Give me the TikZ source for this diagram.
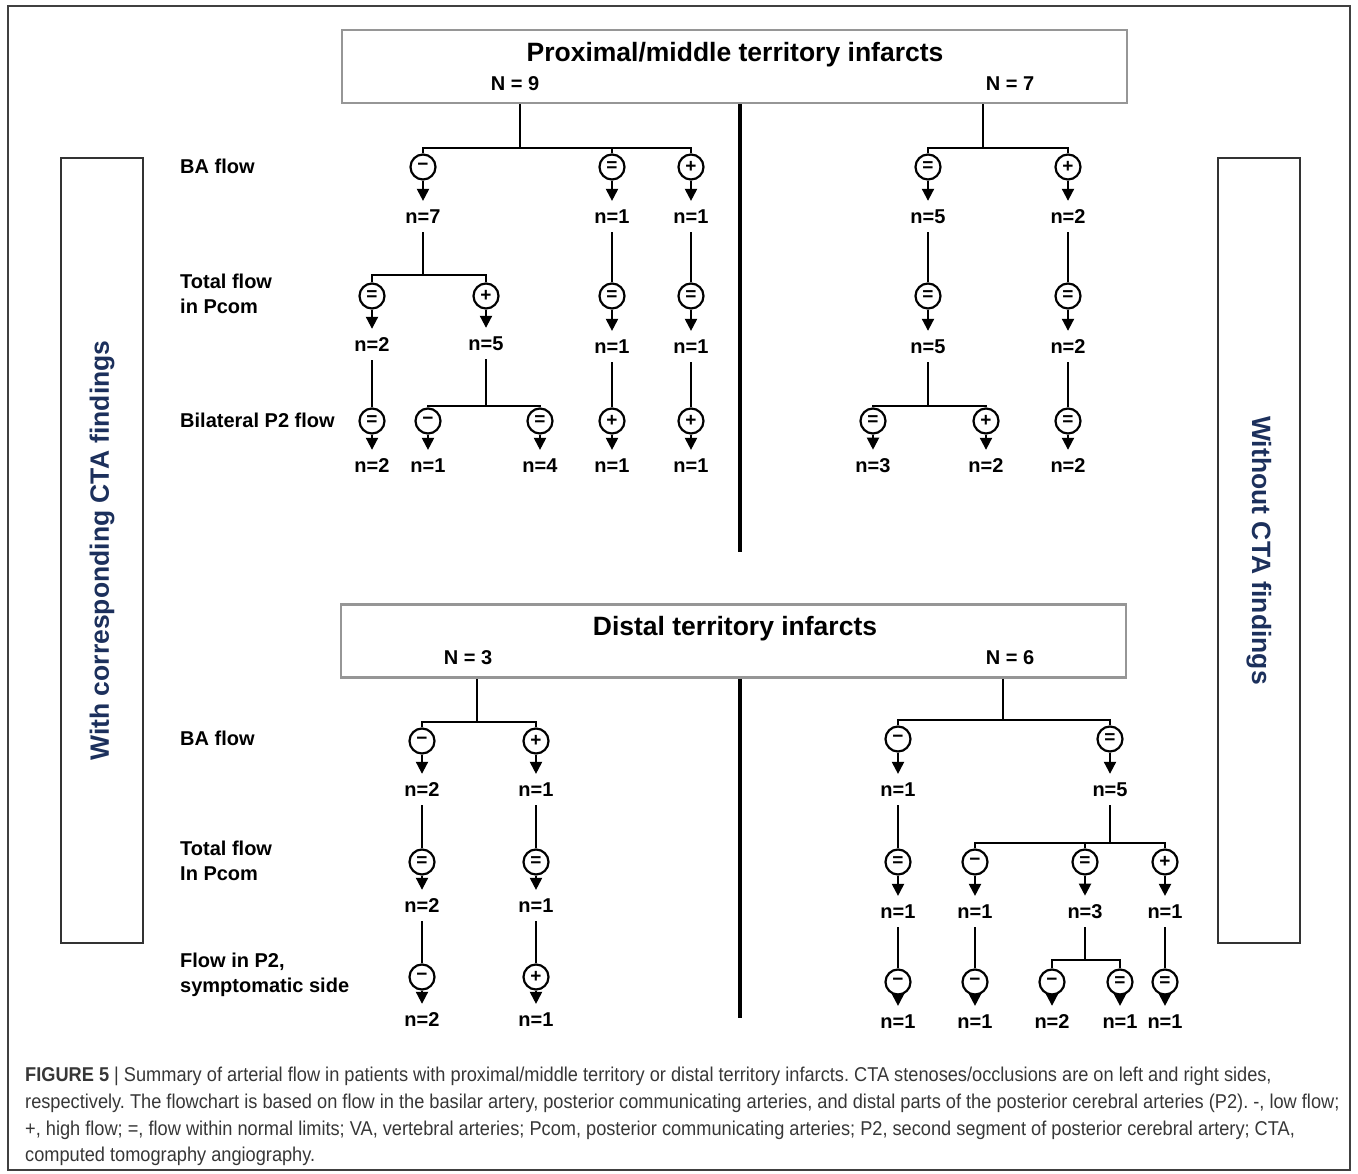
\documentclass[tikz,border=0pt]{standalone}
\usepackage{fontspec}
\setmainfont{Liberation Sans}
\newfontfamily\capfont[FakeStretch=0.91]{Liberation Sans}
\usetikzlibrary{arrows.meta}

\definecolor{boxgray}{RGB}{150,150,150}
\definecolor{sidenavy}{RGB}{28,48,92}
\definecolor{capgray}{RGB}{55,55,55}

\newcommand{\flowlo}{\char"2212}
\newcommand{\flowhi}{+}
\newcommand{\floweq}{=}

\tikzset{
  flowline/.style={line width=2.4pt},
  flowtip/.style={line width=2pt, -{Triangle[width=12pt,length=12pt]}, shorten >=1pt},
  flowsym/.style={circle, draw, line width=2.2pt, minimum size=25pt, inner sep=0pt, font=\bfseries\fontsize{19}{19}\selectfont},
  ncount/.style={font=\bfseries\fontsize{20}{20}\selectfont, inner xsep=2pt, inner ysep=8pt},
  rowlabel/.style={font=\bfseries\fontsize{20}{25}\selectfont, anchor=west, align=left, inner sep=0pt},
  groupbox/.style={draw=boxgray, line width=2.6pt, minimum width=785pt, minimum height=73pt, inner sep=0pt},
  grouptitle/.style={font=\bfseries\fontsize{26.5}{26.5}\selectfont},
  groupn/.style={font=\bfseries\fontsize{20}{20}\selectfont},
  sidebox/.style={draw=black!80, line width=1.3pt, minimum width=785pt, minimum height=82pt, inner sep=0pt, text=sidenavy, font=\bfseries\fontsize{26.5}{26.5}\selectfont},
  divider/.style={line width=4pt},
}

\begin{document}
\frenchspacing
\begin{tikzpicture}[x=1pt, y=-1pt] %% flow summary, fig 5

\useasboundingbox (0,0) rectangle (1358,1174);
\draw[draw=black!75, line width=1.2pt] (8,6) rectangle (1350,1170); %cornice

% side boxes
\node[sidebox, rotate=90] (withcta) at (102,550.5) {With corresponding CTA findings};
\node[sidebox, rotate=-90] (withoutcta) at (1259,550.5) {Without CTA findings};

% row labels
\node[rowlabel] (rowba1) at (180,166) {BA flow};
\node[rowlabel] (rowpcom1) at (180,294) {Total flow\\in Pcom};
\node[rowlabel] (rowp2a) at (180,420) {Bilateral P2 flow};
\node[rowlabel] (rowba2) at (180,738) {BA flow};
\node[rowlabel] (rowpcom2) at (180,861) {Total flow\\In Pcom};
\node[rowlabel] (rowp2b) at (180,975) {Flow in P2,\\symptomatic side};

%%%%%%%%%%%%%%%% proximal/middle
\node[groupbox] (prox) at (734.5,66.5) {};
\node[grouptitle] (proxtitle) at (735,55) {Proximal/middle territory infarcts};
\node[groupn] (proxleft) at (515,84) {N = 9};
\node[groupn] (proxright) at (1010,84) {N = 7};

\coordinate (dv1) at (740,552);
\draw[divider] (prox.south -| dv1) -- (dv1);

% N = 9
\node[flowsym] (a1) at (423,167) {\flowlo};
\node[flowsym] (a2) at (612,167) {\floweq};
\node[flowsym] (a3) at (691,167) {\flowhi};
\node[ncount] (na1) at (423,217) {n=7};
\node[ncount] (na2) at (612,217) {n=1};
\node[ncount] (na3) at (691,217) {n=1};
\coordinate (ja) at (520,148);
\draw[flowline] (prox.south -| ja) -- (ja) -| (a1);
\draw[flowline] (ja) -| (a2);
\draw[flowline] (ja) -| (a3);
\draw[flowtip] (a1) -- (na1); \draw[flowtip] (a2) -- (na2); \draw[flowtip] (a3) -- (na3); %frecce

\node[flowsym] (b1) at (372,296) {\floweq};
\node[flowsym] (b2) at (486,296) {\flowhi};
\node[flowsym] (b3) at (612,296) {\floweq};
\node[flowsym] (b4) at (691,296) {\floweq};
\node[ncount] (nb1) at (372,345) {n=2};
\node[ncount] (nb2) at (486,344) {n=5};
\node[ncount] (nb3) at (612,347) {n=1};
\node[ncount] (nb4) at (691,347) {n=1};
\coordinate (jb) at (423,275);
\draw[flowline] (na1) -- (jb) -| (b1);
\draw[flowline] (jb) -| (b2);
\draw[flowline] (na2) -- (b3);
\draw[flowline] (na3) -- (b4);
\draw[flowtip] (b1) -- (nb1); \draw[flowtip] (b2) -- (nb2); \draw[flowtip] (b3) -- (nb3); \draw[flowtip] (b4) -- (nb4); %frecce

\node[flowsym] (c1) at (372,421) {\floweq};
\node[flowsym] (c2) at (428,421) {\flowlo};
\node[flowsym] (c3) at (540,421) {\floweq};
\node[flowsym] (c4) at (612,421) {\flowhi};
\node[flowsym] (c5) at (691,421) {\flowhi};
\node[ncount] (nc1) at (372,466) {n=2};
\node[ncount] (nc2) at (428,466) {n=1};
\node[ncount] (nc3) at (540,466) {n=4};
\node[ncount] (nc4) at (612,466) {n=1};
\node[ncount] (nc5) at (691,466) {n=1};
\coordinate (jc) at (486,406);
\draw[flowline] (nb1) -- (c1);
\draw[flowline] (nb2) -- (jc) -| (c2);
\draw[flowline] (jc) -| (c3);
\draw[flowline] (nb3) -- (c4);
\draw[flowline] (nb4) -- (c5);
\draw[flowtip] (c1) -- (nc1); \draw[flowtip] (c2) -- (nc2); \draw[flowtip] (c3) -- (nc3); \draw[flowtip] (c4) -- (nc4); \draw[flowtip] (c5) -- (nc5); %frecce

% N = 7
\node[flowsym] (d1) at (928,167) {\floweq};
\node[flowsym] (d2) at (1068,167) {\flowhi};
\node[ncount] (nd1) at (928,217) {n=5};
\node[ncount] (nd2) at (1068,217) {n=2};
\coordinate (jd) at (983,148);
\draw[flowline] (prox.south -| jd) -- (jd) -| (d1);
\draw[flowline] (jd) -| (d2);
\draw[flowtip] (d1) -- (nd1); \draw[flowtip] (d2) -- (nd2); %frecce

\node[flowsym] (e1) at (928,296) {\floweq};
\node[flowsym] (e2) at (1068,296) {\floweq};
\node[ncount] (ne1) at (928,347) {n=5};
\node[ncount] (ne2) at (1068,347) {n=2};
\draw[flowline] (nd1) -- (e1);
\draw[flowline] (nd2) -- (e2);
\draw[flowtip] (e1) -- (ne1); \draw[flowtip] (e2) -- (ne2); %frecce

\node[flowsym] (f1) at (873,421) {\floweq};
\node[flowsym] (f2) at (986,421) {\flowhi};
\node[flowsym] (f3) at (1068,421) {\floweq};
\node[ncount] (nf1) at (873,466) {n=3};
\node[ncount] (nf2) at (986,466) {n=2};
\node[ncount] (nf3) at (1068,466) {n=2};
\coordinate (jf) at (928,406);
\draw[flowline] (ne1) -- (jf) -| (f1);
\draw[flowline] (jf) -| (f2);
\draw[flowline] (ne2) -- (f3);
\draw[flowtip] (f1) -- (nf1); \draw[flowtip] (f2) -- (nf2); \draw[flowtip] (f3) -- (nf3); %frecce

%%%%%%%%%%%%%%%% distal
\node[groupbox] (dist) at (733.5,641) {};
\node[grouptitle] (disttitle) at (735,629) {Distal territory infarcts};
\node[groupn] (distleft) at (468,658) {N = 3};
\node[groupn] (distright) at (1010,658) {N = 6};

\coordinate (dv2) at (740,1018);
\draw[divider] (dist.south -| dv2) -- (dv2);

% N = 3
\node[flowsym] (g1) at (422,741) {\flowlo};
\node[flowsym] (g2) at (536,741) {\flowhi};
\node[ncount] (ng1) at (422,790) {n=2};
\node[ncount] (ng2) at (536,790) {n=1};
\coordinate (jg) at (477,722);
\draw[flowline] (dist.south -| jg) -- (jg) -| (g1);
\draw[flowline] (jg) -| (g2);
\draw[flowtip] (g1) -- (ng1); \draw[flowtip] (g2) -- (ng2); %frecce

\node[flowsym] (h1) at (422,862) {\floweq};
\node[flowsym] (h2) at (536,862) {\floweq};
\node[ncount] (nh1) at (422,906) {n=2};
\node[ncount] (nh2) at (536,906) {n=1};
\draw[flowline] (ng1) -- (h1);
\draw[flowline] (ng2) -- (h2);
\draw[flowtip] (h1) -- (nh1); \draw[flowtip] (h2) -- (nh2); %frecce

\node[flowsym] (i1) at (422,977) {\flowlo};
\node[flowsym] (i2) at (536,977) {\flowhi};
\node[ncount] (ni1) at (422,1020) {n=2};
\node[ncount] (ni2) at (536,1020) {n=1};
\draw[flowline] (nh1) -- (i1);
\draw[flowline] (nh2) -- (i2);
\draw[flowtip] (i1) -- (ni1); \draw[flowtip] (i2) -- (ni2); %frecce

% N = 6
\node[flowsym] (k1) at (898,739) {\flowlo};
\node[flowsym] (k2) at (1110,739) {\floweq};
\node[ncount] (nk1) at (898,790) {n=1};
\node[ncount] (nk2) at (1110,790) {n=5};
\coordinate (jk) at (1003,720);
\draw[flowline] (dist.south -| jk) -- (jk) -| (k1);
\draw[flowline] (jk) -| (k2);
\draw[flowtip] (k1) -- (nk1); \draw[flowtip] (k2) -- (nk2); %frecce

\node[flowsym] (l1) at (898,862) {\floweq};
\node[flowsym] (l2) at (975,862) {\flowlo};
\node[flowsym] (l3) at (1085,862) {\floweq};
\node[flowsym] (l4) at (1165,862) {\flowhi};
\node[ncount] (nl1) at (898,912) {n=1};
\node[ncount] (nl2) at (975,912) {n=1};
\node[ncount] (nl3) at (1085,912) {n=3};
\node[ncount] (nl4) at (1165,912) {n=1};
\coordinate (jl) at (1110,843);
\draw[flowline] (nk1) -- (l1);
\draw[flowline] (nk2) -- (jl) -| (l2);
\draw[flowline] (jl) -| (l3);
\draw[flowline] (jl) -| (l4);
\draw[flowtip] (l1) -- (nl1); \draw[flowtip] (l2) -- (nl2); \draw[flowtip] (l3) -- (nl3); \draw[flowtip] (l4) -- (nl4); %frecce

\node[flowsym] (m1) at (898,982) {\flowlo};
\node[flowsym] (m2) at (975,982) {\flowlo};
\node[flowsym] (m3) at (1052,982) {\flowlo};
\node[flowsym] (m4) at (1120,982) {\floweq};
\node[flowsym] (m5) at (1165,982) {\floweq};
\node[ncount] (nm1) at (898,1022) {n=1};
\node[ncount] (nm2) at (975,1022) {n=1};
\node[ncount] (nm3) at (1052,1022) {n=2};
\node[ncount] (nm4) at (1120,1022) {n=1};
\node[ncount] (nm5) at (1165,1022) {n=1};
\coordinate (jm) at (1085,960);
\draw[flowline] (nl1) -- (m1);
\draw[flowline] (nl2) -- (m2);
\draw[flowline] (nl3) -- (jm) -| (m3);
\draw[flowline] (jm) -| (m4);
\draw[flowline] (nl4) -- (m5);
\draw[flowtip] (m1) -- (nm1); \draw[flowtip] (m2) -- (nm2); \draw[flowtip] (m3) -- (nm3); \draw[flowtip] (m4) -- (nm4); \draw[flowtip] (m5) -- (nm5); %frecce

% caption
\node[anchor=north west, align=left, inner sep=0pt, text=capgray, font=\capfont\fontsize{20}{26.7}\selectfont] (caption) at (25,1067) {\textbf{FIGURE 5} | Summary of arterial flow in patients with proximal/middle territory or distal territory infarcts. CTA stenoses/occlusions are on left and right sides,\\
respectively. The flowchart is based on flow in the basilar artery, posterior communicating arteries, and distal parts of the posterior cerebral arteries (P2). -, low flow;\\
+, high flow; =, flow within normal limits; VA, vertebral arteries; Pcom, posterior communicating arteries; P2, second segment of posterior cerebral artery; CTA,\\
computed tomography angiography.};

\end{tikzpicture}
\end{document}
